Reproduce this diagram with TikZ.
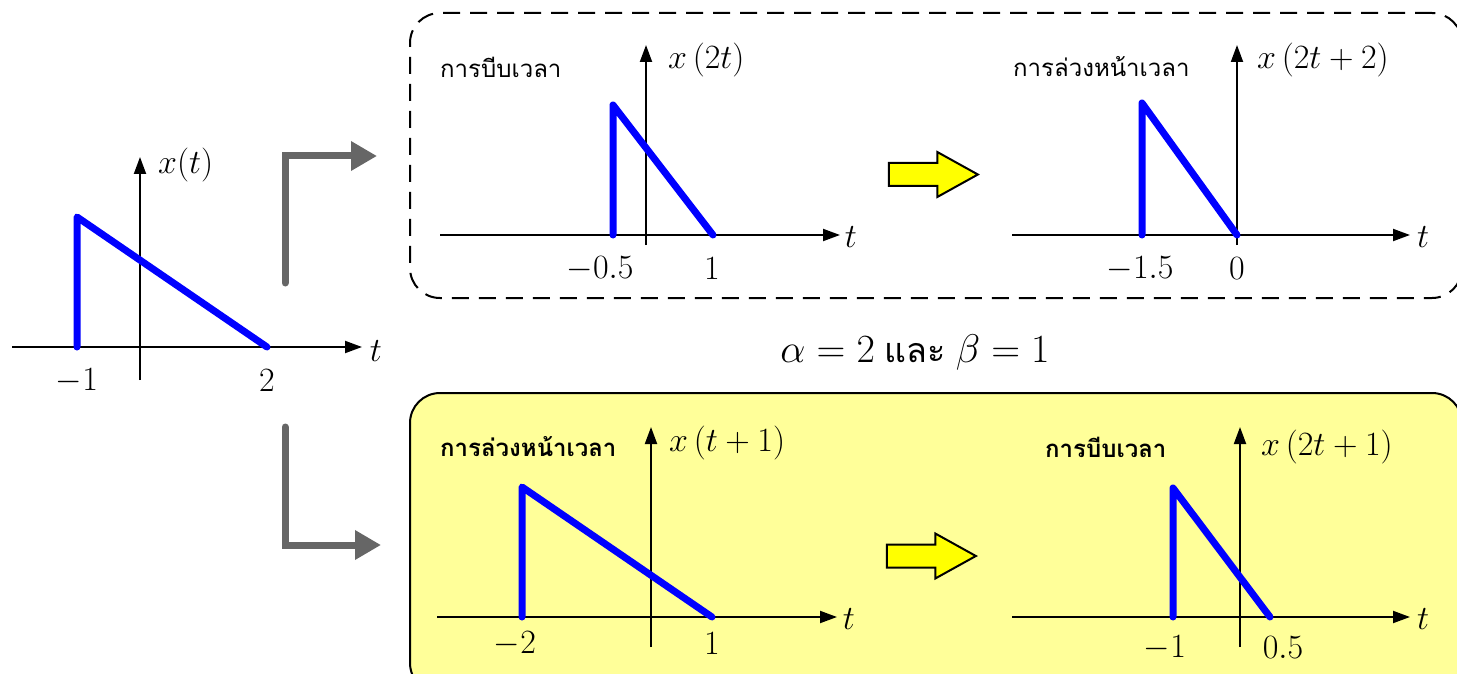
\RequirePackage{fix-cm}
\documentclass[tikz,border=0pt]{standalone}
\usepackage{fontspec}
\setmainfont{Liberation Serif}
\newfontfamily\thaifont[Script=Thai]{Loma}
\usetikzlibrary{arrows.meta,shapes.arrows,positioning}
\definecolor{sigblue}{RGB}{0,0,255}
\definecolor{bendgray}{RGB}{102,102,102}
\definecolor{boxyellow}{RGB}{255,255,153}
\definecolor{arrowyellow}{RGB}{255,255,0}

\tikzset{
  axis/.style={line width=2pt, -{Triangle[length=17pt,width=12pt]}},
  signal/.style={draw=sigblue, line width=7pt, line cap=round, line join=round},
  bendarrow/.style={draw=bendgray, line width=7pt, line cap=round, -{Triangle[length=26pt,width=28pt]}},
  lbl/.style={inner sep=0pt, font=\fontsize{34}{40}\selectfont},
  thailbl/.style={inner sep=0pt, anchor=west, font=\thaifont\fontsize{24}{30}\selectfont},
  fatarrow/.style={single arrow, draw=black, line width=2pt, fill=arrowyellow, minimum height=89pt, minimum width=43pt, single arrow head extend=11pt, single arrow tip angle=58, inner xsep=0pt, inner ysep=10.5pt},
}

\begin{document}
\begin{tikzpicture}[x=1pt, y=-1pt]
  \useasboundingbox (0,0) rectangle (1457,674);

  % Boxes
  \node[draw, dash pattern=on 17pt off 10pt, line width=2pt, rounded corners=30pt, minimum width=1052pt, minimum height=285pt] (shrinkbox) at (936,155.5) {};
  \node[draw, fill=boxyellow, line width=2pt, rounded corners=30pt, minimum width=1052pt, minimum height=300pt] (shiftbox) at (936,543) {};

  % Original signal
  \draw[axis] (12,347) -- (362,347);
  \draw[axis] (140,380) -- (140,157);
  \draw[signal] (77,347) -- (77,217) -- (267,347);
  \node[lbl] (tzero) at (376,351) {$t$};
  \node[lbl, anchor=west] (xzero) at (158,165) {$x(t)$};
  \node[lbl] (mone) at (77,381) {$-1$};
  \node[lbl] (ptwo) at (267,381) {$2$};

  % Bent arrows
  \coordinate (upstart) at (285,283);
  \coordinate (upend) at (377,156);
  \coordinate (downstart) at (285,427);
  \coordinate (downend) at (381,545);
  \draw[bendarrow] (upstart) |- (upend);
  \draw[bendarrow] (downstart) |- (downend);

  % Top: compression first
  \node[thailbl] (shrinkone) at (440,67) {การบีบเวลา};
  \draw[axis] (440,235) -- (840,235);
  \draw[axis] (646,245) -- (646,45);
  \draw[signal] (613,235) -- (613,105) -- (713,235);
  \node[lbl] (tone) at (851,237) {$t$};
  \node[lbl, anchor=west] (xone) at (668,60) {$x\left(2t\right)$};
  \node[lbl] (mhalf) at (600,269) {$-0.5$};
  \node[lbl] (pone) at (712,269) {$1$};

  \node[fatarrow] (topstep) at (923,174.5) {};

  % Top: then shift
  \node[thailbl] (shiftone) at (1013,67) {การล่วงหน้าเวลา};
  \draw[axis] (1012,235) -- (1410,235);
  \draw[axis] (1237,245) -- (1237,45);
  \draw[signal] (1142,235) -- (1142,103) -- (1237,235);
  \node[lbl] (ttwo) at (1423,237) {$t$};
  \node[lbl, anchor=west] (xtwo) at (1257,60) {$x\left(2t+2\right)$};
  \node[lbl] (monehalf) at (1140,269) {$-1.5$};
  \node[lbl] (pzero) at (1237,269) {$0$};

  % Parameters
  \node[lbl, font=\fontsize{40}{46}\selectfont] (params) at (915,352) {$\alpha=2$ {\thaifont\fontsize{34}{40}\selectfont และ} $\beta=1$};

  % Bottom: shift first
  \node[thailbl, font=\thaifont\bfseries\fontsize{24}{30}\selectfont] (shifttwo) at (440,447) {การล่วงหน้าเวลา};
  \draw[axis] (437,617) -- (837,617);
  \draw[axis] (651,647) -- (651,427);
  \draw[signal] (522,617) -- (522,487) -- (712,617);
  \node[lbl] (tthree) at (849,619) {$t$};
  \node[lbl, anchor=west] (xthree) at (669,443) {$x\left(t+1\right)$};
  \node[lbl] (mtwo) at (515,644) {$-2$};
  \node[lbl] (ponebis) at (712,644) {$1$};

  \node[fatarrow] (bottomstep) at (921,556) {};

  % Bottom: then compression
  \node[thailbl, font=\thaifont\bfseries\fontsize{24}{30}\selectfont] (shrinktwo) at (1045,447) {การบีบเวลา};
  \draw[axis] (1012,617) -- (1410,617);
  \draw[axis] (1240,647) -- (1240,427);
  \draw[signal] (1173,617) -- (1173,488) -- (1270,617);
  \node[lbl] (tfour) at (1423,619) {$t$};
  \node[lbl, anchor=west] (xfour) at (1261,447) {$x\left(2t+1\right)$};
  \node[lbl] (monebis) at (1165,648) {$-1$};
  \node[lbl] (phalf) at (1283,648) {$0.5$};
\end{tikzpicture}
\end{document}
